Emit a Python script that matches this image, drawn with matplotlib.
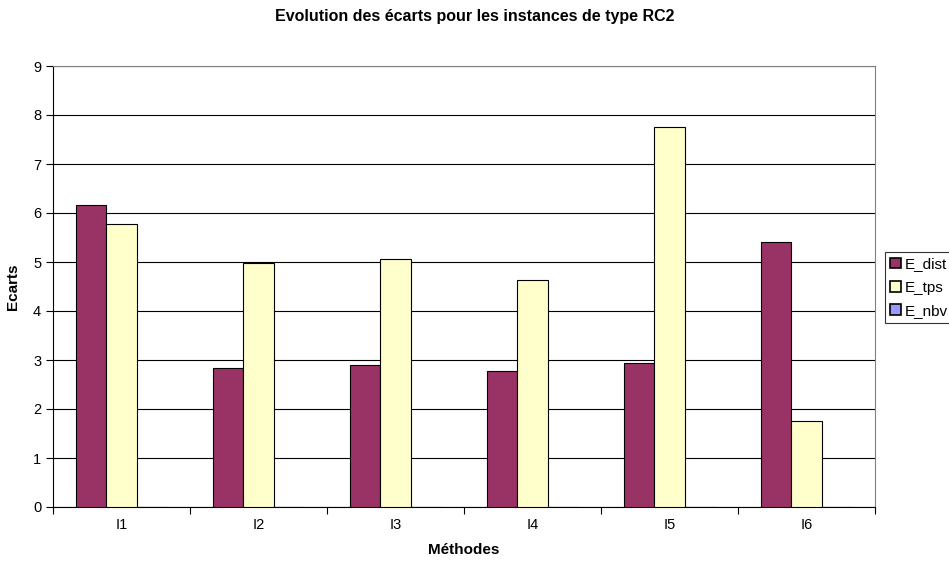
import numpy as np
import matplotlib.pyplot as plt
from matplotlib.patches import Patch

plt.rcParams['font.family'] = ['Liberation Sans', 'DejaVu Sans']

# Data
instances = ['I1', 'I2', 'I3', 'I4', 'I5', 'I6']
e_dist = [6.16, 2.83, 2.89, 2.77, 2.94, 5.40]
e_tps = [5.77, 4.98, 5.07, 4.63, 7.75, 1.76]
e_nbv = [0, 0, 0, 0, 0, 0]

series_names = ['E_dist', 'E_tps', 'E_nbv']
series_colors = ['#993366', '#FFFFCC', '#9999FF']

fig = plt.figure(figsize=(9.49, 5.68), dpi=100)
ax = fig.add_axes([53 / 949, 61 / 568, 822 / 949, 441 / 568])

x = np.arange(len(instances))
width = 0.22
for i, (vals, col) in enumerate(zip([e_dist, e_tps, e_nbv], series_colors)):
    ax.bar(x + (i - 1) * width, vals, width, color=col, edgecolor='black',
           linewidth=0.8, zorder=3)

ax.set_xlim(-0.5, len(instances) - 0.5)
ax.set_ylim(0, 9)
ax.set_yticks(range(10))
ax.yaxis.grid(True, color='black', linewidth=0.8, zorder=0)

# category boundaries get the ticks, labels sit at the centres
ax.set_xticks(np.arange(len(instances) + 1) - 0.5)
ax.set_xticklabels([])
ax.set_xticks(x, minor=True)
ax.set_xticklabels(instances, minor=True)
ax.tick_params(axis='x', which='minor', length=0, labelsize=10.5, pad=8)
ax.tick_params(axis='x', which='major', length=5, color='black')
ax.tick_params(axis='y', length=5, labelsize=10.5, color='black')

for side in ['top', 'right']:
    ax.spines[side].set_color('#808080')
for side in ['left', 'bottom']:
    ax.spines[side].set_color('black')

ax.set_ylabel('Ecarts', fontsize=11, fontweight='bold', labelpad=9)
ax.set_xlabel('Méthodes', fontsize=11, fontweight='bold', labelpad=8)
fig.text(0.5, 1 - 16 / 568, 'Evolution des écarts pour les instances de type RC2',
         ha='center', va='center', fontsize=11.5, fontweight='bold')

# legend runs past the right edge, as in the original export
handles = [Patch(facecolor=c, edgecolor='black', linewidth=1.2) for c in series_colors]
leg = fig.legend(handles, series_names, loc='upper left',
                 bbox_to_anchor=(885 / 949, 1 - 252 / 568), fontsize=11,
                 frameon=True, fancybox=False, handlelength=0.7, handleheight=0.7,
                 handletextpad=0.25, borderpad=0.35, labelspacing=0.6,
                 borderaxespad=0)
leg.get_frame().set_edgecolor('black')
leg.get_frame().set_linewidth(0.8)

fig.savefig('out.png', dpi=100)
